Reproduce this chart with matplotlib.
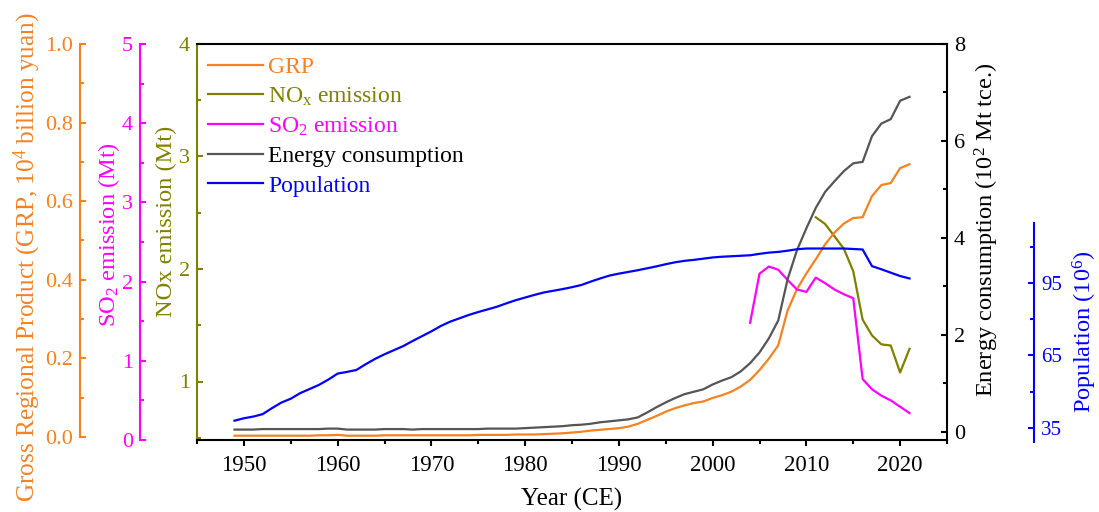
import matplotlib
import matplotlib.pyplot as plt
import numpy as np
from matplotlib.ticker import FixedLocator, MultipleLocator

matplotlib.use("Agg")

# Annual series, 1949-2021
YEARS = np.arange(1949, 2022)

# Gross Regional Product (10^4 billion yuan)
GRP = [
    0.003, 0.003, 0.003, 0.003, 0.003, 0.003, 0.003, 0.003, 0.003, 0.004, 0.004, 0.005,  # 1949-1960
    0.003, 0.003, 0.003, 0.003, 0.004, 0.004, 0.004, 0.004, 0.004, 0.004,  # 1961-1970
    0.004, 0.004, 0.004, 0.004, 0.005, 0.005, 0.005, 0.005, 0.006, 0.006,  # 1971-1980
    0.006, 0.007, 0.008, 0.009, 0.011, 0.013, 0.016, 0.018, 0.020, 0.022,  # 1981-1990
    0.026, 0.033, 0.043, 0.053, 0.064, 0.073, 0.080, 0.086, 0.090, 0.099,  # 1991-2000
    0.106, 0.115, 0.128, 0.145, 0.170, 0.199, 0.233, 0.322, 0.376, 0.416,  # 2001-2010
    0.452, 0.490, 0.520, 0.543, 0.557, 0.559, 0.613, 0.641, 0.646, 0.684, 0.694,  # 2011-2021
]

# Energy consumption (10^2 Mt tce.)
ENERGY = [
    0.05, 0.05, 0.05, 0.06, 0.06, 0.06, 0.06, 0.06, 0.06, 0.06, 0.07, 0.07,
    0.05, 0.05, 0.05, 0.05, 0.06, 0.06, 0.06, 0.05, 0.06, 0.06,
    0.06, 0.06, 0.06, 0.06, 0.06, 0.07, 0.07, 0.07, 0.07, 0.08,
    0.09, 0.10, 0.11, 0.12, 0.14, 0.15, 0.17, 0.20, 0.22, 0.24,
    0.26, 0.30, 0.40, 0.51, 0.61, 0.70, 0.78, 0.83, 0.88, 0.98,
    1.06, 1.13, 1.25, 1.42, 1.64, 1.93, 2.30, 3.15, 3.75, 4.20,
    4.62, 4.95, 5.17, 5.38, 5.54, 5.57, 6.10, 6.36, 6.45, 6.83, 6.91,
]

# Population (10^6)
POPULATION = [
    38.0, 39.0, 39.7, 40.7, 43.2, 45.5, 47.1, 49.4, 51.1, 52.8, 55.0, 57.5,
    58.2, 59.0, 61.4, 63.6, 65.5, 67.2, 68.9, 71.0, 73.0, 75.0,
    77.2, 79.0, 80.4, 81.8, 83.0, 84.1, 85.2, 86.6, 87.9, 89.0,
    90.1, 91.1, 91.8, 92.5, 93.3, 94.2, 95.6, 96.9, 98.1, 98.9,
    99.6, 100.3, 101.1, 101.9, 102.8, 103.6, 104.2, 104.6, 105.1, 105.6,
    105.9, 106.1, 106.3, 106.5, 107.1, 107.6, 107.9, 108.4, 109.0, 109.3,
    109.3, 109.3, 109.3, 109.3, 109.1, 108.9, 102.0, 100.7, 99.3, 97.9, 96.9,
]

# SO2 emission (Mt), 2004-2021
SO2_YEARS = np.arange(2004, 2022)
SO2 = [1.48, 2.10, 2.19, 2.15, 2.02, 1.90, 1.87, 2.05, 1.98, 1.90,
       1.84, 1.79, 0.77, 0.64, 0.56, 0.50, 0.42, 0.34]

# NOx emission (Mt), 2011-2021
NOX_YEARS = np.arange(2011, 2022)
NOX = [2.46, 2.40, 2.29, 2.18, 1.98, 1.55, 1.41, 1.33, 1.32, 1.08, 1.29]

POP_TICKS = [35, 65, 95]
POP_MINOR = [50, 80, 110]

C_GRP = "#F58220"
C_NOX = "#808000"
C_SO2 = "#FF00FF"
C_ENERGY = "#555555"
C_POP = "#0000FF"

plt.rcParams["font.family"] = "Liberation Serif"
plt.rcParams["mathtext.fontset"] = "custom"
plt.rcParams["mathtext.rm"] = "Liberation Serif"
plt.rcParams["mathtext.it"] = "Liberation Serif:italic"

W, H = 1099, 512
TICK_FS = 16
LABEL_FS = 17.6


def _only_spine(ax, side, color, position=None):
    for name, sp in ax.spines.items():
        sp.set_visible(name == side)
    sp = ax.spines[side]
    sp.set_color(color)
    sp.set_linewidth(1.5)
    if position is not None:
        sp.set_position(("axes", position))
    if side == "left":
        ax.yaxis.tick_left()
    else:
        ax.yaxis.tick_right()
    ax.tick_params(axis="y", which="both", direction="in", colors=color,
                   width=1.5, labelsize=TICK_FS, pad=5)
    ax.tick_params(axis="y", which="major", length=4.5)
    ax.tick_params(axis="y", which="minor", length=2.8)


def _label(ax, text, color, x, y, size=LABEL_FS):
    ax.set_ylabel(text, fontsize=size, color=color)
    ax.yaxis.set_label_coords(x, y)
    ax.yaxis.label.set(rotation_mode="default", ha="center", va="center")


def main():
    fig = plt.figure(figsize=(W / 100, H / 100), dpi=100)
    ax = fig.add_axes([197 / W, 1 - 440 / H, 750 / W, 396 / H])

    # NOx on the host axes (olive left spine), black frame top/bottom
    ax.set_xlim(1945, 2025)
    ax.set_ylim(0.48, 4.0)
    for name in ("top", "bottom"):
        ax.spines[name].set_linewidth(1.5)
    ax.spines["right"].set_visible(False)
    ax.spines["left"].set_color(C_NOX)
    ax.spines["left"].set_linewidth(1.5)
    ax.xaxis.set_major_locator(MultipleLocator(10))
    ax.xaxis.set_minor_locator(MultipleLocator(5))
    ax.tick_params(axis="x", which="both", direction="out", width=1.5,
                   labelsize=16.5, top=False, pad=6)
    ax.tick_params(axis="x", which="major", length=4.5)
    ax.tick_params(axis="x", which="minor", length=3)
    ax.yaxis.set_major_locator(MultipleLocator(1))
    ax.yaxis.set_minor_locator(MultipleLocator(0.5))
    ax.tick_params(axis="y", which="both", direction="in", colors=C_NOX,
                   width=1.5, labelsize=TICK_FS, pad=5)
    ax.tick_params(axis="y", which="major", length=4.5)
    ax.tick_params(axis="y", which="minor", length=2.8)
    ax.set_xlabel("Year (CE)", fontsize=18, labelpad=9)

    ax_grp = ax.twinx()
    _only_spine(ax_grp, "left", C_GRP, -0.156)
    ax_grp.set_ylim(-0.008, 1.0)
    ax_grp.spines["left"].set_bounds(0, 1.0)
    ax_grp.yaxis.set_major_locator(MultipleLocator(0.2))
    ax_grp.yaxis.set_minor_locator(MultipleLocator(0.1))
    ax_grp.yaxis.set_major_formatter(lambda v, _: f"{v:.1f}")

    ax_so2 = ax.twinx()
    _only_spine(ax_so2, "left", C_SO2, -0.076)
    ax_so2.set_ylim(0, 5)
    ax_so2.yaxis.set_major_locator(MultipleLocator(1))
    ax_so2.yaxis.set_minor_locator(MultipleLocator(0.5))

    ax_en = ax.twinx()
    _only_spine(ax_en, "right", "black")
    ax_en.set_ylim(-0.165, 8.0)
    ax_en.yaxis.set_major_locator(MultipleLocator(2))
    ax_en.yaxis.set_minor_locator(MultipleLocator(1))

    ax_pop = ax.twinx()
    _only_spine(ax_pop, "right", C_POP, 1.116)
    ax_pop.set_ylim(30, 194)
    ax_pop.spines["right"].set_bounds(29.2, 120)
    ax_pop.yaxis.set_major_locator(FixedLocator(POP_TICKS))
    ax_pop.yaxis.set_minor_locator(FixedLocator(POP_MINOR))
    ax_pop.tick_params(axis="y", labelsize=15)

    lw = 1.6
    l_grp, = ax_grp.plot(YEARS, GRP, color=C_GRP, lw=lw, label="GRP")
    l_nox, = ax.plot(NOX_YEARS, NOX, color=C_NOX, lw=lw,
                     label=r"NO$_\mathregular{x}$ emission")
    l_so2, = ax_so2.plot(SO2_YEARS, SO2, color=C_SO2, lw=lw,
                         label=r"SO$_\mathregular{2}$ emission")
    l_en, = ax_en.plot(YEARS, ENERGY, color=C_ENERGY, lw=lw,
                       label="Energy consumption")
    l_pop, = ax_pop.plot(YEARS, POPULATION, color=C_POP, lw=lw,
                         label="Population")

    _label(ax_grp, r"Gross Regional Product (GRP, 10$^\mathregular{4}$ billion yuan)",
           C_GRP, -0.2267, 0.462, size=18.2)
    _label(ax_so2, r"SO$_\mathregular{2}$ emission (Mt)", C_SO2, -0.1167, 0.52)
    _label(ax, "NOx emission (Mt)", C_NOX, -0.0413, 0.553)
    _label(ax_en, r"Energy consumption (10$^\mathregular{2}$ Mt tce.)",
           "black", 1.0533, 0.53)
    _label(ax_pop, r"Population (10$^\mathregular{6}$)", C_POP, 1.184, 0.273)

    handles = [l_grp, l_nox, l_so2, l_en, l_pop]
    leg = ax_pop.legend(handles=handles, loc="upper left",
                        bbox_to_anchor=(0.015, 0.969), frameon=False,
                        fontsize=17, handlelength=2.3, handletextpad=0.25,
                        labelspacing=0.33, borderpad=0, borderaxespad=0)
    for text, color in zip(leg.get_texts(), [C_GRP, C_NOX, C_SO2, "black", C_POP]):
        text.set_color(color)

    fig.savefig("out.png", dpi=100)
    plt.close(fig)


if __name__ == "__main__":
    main()
